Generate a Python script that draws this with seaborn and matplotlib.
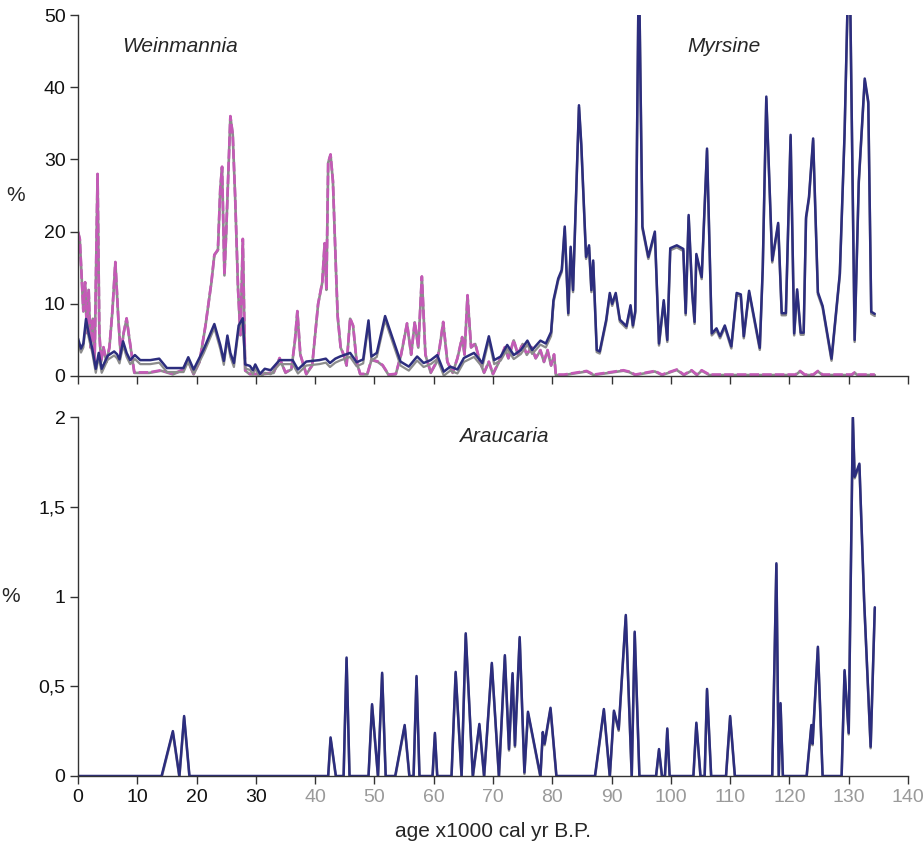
import numpy as np
import pandas as pd
import matplotlib
matplotlib.use("Agg")
import matplotlib.pyplot as plt
import matplotlib.transforms as mtransforms
import seaborn as sns

# ---------------- data ----------------
wein_age = [0, 0.3, 0.6, 0.9, 1.2, 1.5, 1.8, 2.1, 2.5, 2.8, 3.3, 3.6, 3.9, 4.3, 4.8, 5.3, 5.8, 6.3, 6.8, 7.2,
            7.7, 8.2, 8.7, 9.5, 10.5, 12, 14, 16, 17.5, 18.5, 19.5, 20.5, 21.5, 22.5, 23, 23.6, 24, 24.3, 24.7, 25,
            25.7, 26.1, 26.5, 27, 27.4, 27.8, 28.2, 29, 31, 33, 34, 35, 36, 36.6, 37, 37.5, 38.5, 39.5, 40.5, 41.2,
            41.6, 41.9, 42.2, 42.6, 43, 43.5, 43.8, 44.3, 44.8, 45.3, 45.9, 46.4, 47, 47.6, 48.8, 49.5, 50.6, 51.4,
            52.4, 53.6, 54.5, 55.5, 56.2, 56.8, 57.4, 58, 58.6, 59.5, 60.5, 61, 61.6, 62.3, 63.2, 64, 64.8, 65.2,
            65.7, 66.3, 67, 67.8, 68.5, 69.3, 70, 71, 72, 72.6, 73.5, 74.2, 75, 75.7, 76.5, 77.2, 78, 78.6, 79.2,
            79.8, 80.3, 80.6, 82, 85.8, 87, 92, 93, 94, 97.3, 98.5, 101, 102.2, 103.5, 104.4, 105.2, 106.5, 121,
            121.8, 122.6, 124, 124.8, 125.6, 130.5, 131, 131.5, 134.4]
wein_val = [20, 19, 14, 9, 13, 6, 12, 4, 8, 2, 28, 6, 2, 4, 2, 4, 9, 15.8, 8, 3,
            6, 8, 5, 0.5, 0.5, 0.5, 0.8, 0.3, 0.8, 2.2, 0.3, 2, 7, 13, 16.8, 17.5, 26, 29, 14, 20,
            36, 33.5, 25, 12, 5.7, 19, 0.8, 0.3, 0.3, 0.5, 2.5, 0.5, 1, 5, 9, 3, 0.3, 1.5, 10, 13,
            18.4, 12, 29.6, 30.7, 27, 15, 8.3, 4, 3, 1.5, 8, 7, 2, 0.3, 0.3, 2.3, 2, 1.5,
            0.2, 0.3, 3, 7.3, 3, 7.5, 4, 13.8, 3, 0.5, 2, 4, 7.5, 2, 0.5, 2.5, 5.4, 3,
            11.2, 4, 4.5, 2, 0.5, 2, 0.3, 2, 4, 2.5, 5, 3, 4.5, 3, 4, 2.5, 3.6, 2, 3.6,
            1.5, 3, 0.2, 0.2, 0.7, 0.2, 0.8, 0.6, 0.2, 0.7, 0.2, 0.9, 0.2, 0.8, 0.2, 0.8, 0.2, 0.2,
            0.7, 0.2, 0.2, 0.7, 0.2, 0.2, 0.5, 0.2, 0.2]

myr_age = [0, 0.5, 0.9, 1.35, 1.8, 2.4, 3.0, 3.5, 4, 5, 6.1, 6.6, 7, 7.6, 8.2, 8.8, 9.6, 10.5, 12.2, 13.7,
           15, 17.8, 18.6, 19.5, 21.2, 23, 24, 24.6, 25.2, 25.7, 26.3, 27.1, 27.8, 28.2, 29, 29.5, 29.9, 30.7,
           31.5, 32.5, 34, 36.2, 37.1, 38.5, 40.7, 41.8, 42.5, 43.4, 44.2, 45.9, 47, 48.1, 49, 49.5, 50.4, 51.8,
           53.2, 54.4, 55.8, 57.2, 58.3, 59.5, 60.6, 61.7, 62.8, 64, 65.1, 66.8, 68.2, 69.3, 70.2, 71.3, 72.4,
           73.5, 74.7, 75.8, 76.6, 78, 78.9, 79.8, 80.2, 81, 81.6, 82.1, 82.7, 83.1, 83.5, 84.5, 84.9, 85.7,
           86.2, 86.6, 86.9, 87.5, 88, 89.1, 89.7, 90.1, 90.7, 91.4, 92.5, 93.2, 93.6, 94.0, 94.6, 95.2, 96.2,
           97.3, 98, 98.8, 99.4, 99.9, 101, 102.1, 102.5, 103, 103.6, 104, 104.3, 105.2, 106.1, 106.9, 107.7,
           108.3, 109.1, 110.2, 111.1, 111.8, 112.3, 113.2, 115, 115.5, 116.1, 117.1, 118.1, 118.7, 119.4,
           120.2, 120.8, 121.3, 121.9, 122.4, 122.8, 123.3, 124, 124.8, 125.6, 127.1, 128.5, 129.3, 130.1,
           131, 131.7, 132.7, 133.3, 133.8, 134.4]
myr_val = [5.2, 3.8, 4.5, 7.9, 5.9, 3.8, 1, 3.2, 1, 2.8, 3.4, 3, 2.3, 4.8, 3.2, 2.2, 2.9, 2.2, 2.2, 2.4,
           1.1, 1.1, 2.6, 0.9, 3.7, 7.2, 4.3, 2.1, 5.6, 3.2, 1.8, 7, 8, 1.6, 1.4, 0.8, 1.6, 0.3,
           1, 0.8, 2.2, 2.2, 0.9, 2, 2.2, 2.4, 1.8, 2.4, 2.7, 3.2, 1.9, 2.3, 7.7, 2.7, 3.2, 8.3,
           4.9, 2, 1.3, 2.7, 1.8, 2.2, 2.9, 0.6, 1.3, 0.9, 2.5, 3.2, 1.8, 5.5, 2.2, 2.7, 4.3,
           2.9, 3.6, 4.9, 3.6, 4.9, 4.5, 6.1, 10.5, 13.5, 14.7, 20.7, 8.7, 17.9, 11.9, 37.5, 32, 16.5,
           18.1, 11.9, 16, 3.6, 3.4, 7.8, 11.5, 10, 11.5, 7.8, 6.9, 9.8, 7, 9, 58, 20.7, 16.5,
           20, 4.5, 10.5, 5, 17.7, 18.1, 17.6, 8.7, 22.3, 11.6, 7.5, 16.9, 13.7, 31.5, 5.9, 6.6,
           5.5, 7, 4.1, 11.5, 11.3, 5.5, 11.8, 3.9, 15, 38.7, 16, 21.2, 8.7, 8.7,
           33.4, 5.9, 12, 6, 6, 22, 24.8, 32.9, 11.6, 9.7, 2.4, 14.2, 33.6, 62,
           5, 27, 41.2, 38, 8.9, 8.6]

arau_age = [0, 14.1, 16.0, 17.1, 17.9, 18.8, 42.2, 42.6, 43.5, 44.8, 45.3, 45.8, 49, 49.6, 50.6, 51.3, 51.9,
            53.5, 55.1, 55.9, 56.6, 57.1, 57.6, 59.8, 60.2, 60.6, 63.0, 63.7, 64.7, 65.4, 66.6, 67.7, 68.5,
            69.8, 71, 72, 72.7, 73.3, 73.7, 74.5, 75.3, 75.9, 78, 78.4, 78.7, 79.7, 80.7, 87.2, 88.7, 89.7,
            90.4, 91.2, 92.4, 93.4, 93.9, 94.7, 97.5, 98.0, 98.5, 99.0, 99.4, 99.8, 103.8, 104.3, 105, 105.7,
            106.1, 106.8, 109.3, 110, 110.8, 117.1, 117.8, 118.2, 118.5, 118.9, 122.9, 123.7, 123.9, 124.8,
            125.6, 128.8, 129.3, 130, 130.7, 131, 131.8, 132.6, 133.7, 134.4]
arau_val = [0, 0, 0.25, 0, 0.334, 0, 0, 0.215, 0, 0, 0.66, 0, 0, 0.40, 0, 0.575, 0,
            0, 0.284, 0, 0, 0.557, 0, 0, 0.24, 0, 0, 0.58, 0, 0.795, 0, 0.29, 0,
            0.63, 0, 0.673, 0.15, 0.573, 0.17, 0.774, 0.02, 0.358, 0, 0.245, 0.18, 0.38, 0, 0, 0.373, 0,
            0.364, 0.26, 0.897, 0, 0.804, 0, 0, 0.15, 0, 0, 0.265, 0, 0, 0.297, 0, 0,
            0.485, 0, 0, 0.334, 0, 0, 1.185, 0, 0.406, 0, 0, 0.284, 0.18, 0.72,
            0, 0, 0.59, 0.24, 2.0, 1.667, 1.74, 0.98, 0.163, 0.94]

x_ticks = list(range(0, 141, 10))
top_yticks = [0, 10, 20, 30, 40, 50]
bot_yticks = [0, 0.5, 1, 1.5, 2]
bot_yticklabels = ["0", "0,5", "1", "1,5", "2"]

# ---------------- styling ----------------
sns.set_theme(style="white")
plt.rcParams["font.family"] = ["Liberation Sans", "DejaVu Sans"]

NAVY = "#2c2d7e"
MAGENTA = "#c45ab6"
GRAY = "#8c8c8c"

fig = plt.figure(figsize=(9.24, 8.43), dpi=100)
ax1 = fig.add_axes([78 / 924, 1 - 376 / 843, 830 / 924, 361 / 843])
ax2 = fig.add_axes([78 / 924, 1 - 776 / 843, 830 / 924, 359 / 843])

wein = pd.DataFrame({"age": wein_age, "pct": wein_val})
myr = pd.DataFrame({"age": myr_age, "pct": myr_val})
arau = pd.DataFrame({"age": arau_age, "pct": arau_val})


def shifted(ax, dy):
    return mtransforms.offset_copy(ax.transData, fig=fig, x=0, y=-dy, units="dots")


def shadow(ax, df, dy, lw):
    sns.lineplot(data=df, x="age", y="pct", ax=ax, color=GRAY, lw=lw, errorbar=None)
    ax.lines[-1].set_transform(shifted(ax, dy))


# top panel: Weinmannia (dashed magenta on gray) and Myrsine (navy with gray shadow)
shadow(ax1, wein, 0.5, 1.9)
sns.lineplot(data=wein, x="age", y="pct", ax=ax1, color=MAGENTA, lw=1.9, errorbar=None)
ax1.lines[-1].set_dashes((3.6, 1.2))

shadow(ax1, myr[myr["age"] <= 80.2], 4, 1.6)
shadow(ax1, myr[myr["age"] >= 79.8], 2, 1.8)
sns.lineplot(data=myr, x="age", y="pct", ax=ax1, color=NAVY, lw=1.8, errorbar=None)

# bottom panel: Araucaria
shadow(ax2, arau, 1.5, 1.8)
sns.lineplot(data=arau, x="age", y="pct", ax=ax2, color=NAVY, lw=1.8, errorbar=None)

for ax in (ax1, ax2):
    ax.set_xlim(0, 140)
    ax.set_xticks(x_ticks)
    sns.despine(ax=ax)
    for s in ("left", "bottom"):
        ax.spines[s].set_color("#333333")
        ax.spines[s].set_linewidth(1.0)
    ax.tick_params(axis="both", direction="out", length=6, width=1.0, color="#333333",
                   labelsize=14, bottom=True, left=True, pad=3, labelcolor="#111111")
    ax.set_xlabel("")
    ax.set_ylabel("%", rotation=0, fontsize=15, labelpad=20, va="center")
    ax.grid(False)

ax1.set_ylim(0, 50)
ax1.set_yticks(top_yticks)
ax1.set_xticklabels([])

ax2.set_ylim(0, 2)
ax2.set_yticks(bot_yticks)
ax2.set_yticklabels(bot_yticklabels)
ax2.set_xticklabels([str(t) for t in x_ticks])
for lab, t in zip(ax2.get_xticklabels(), x_ticks):
    lab.set_color("#111111" if t < 40 else "#9a9a9a")
ax2.set_xlabel("age x1000 cal yr B.P.", fontsize=15, labelpad=12)

ax1.text(17.2, 45.6, "Weinmannia", style="italic", fontsize=15, ha="center", va="center")
ax1.text(109, 45.6, "Myrsine", style="italic", fontsize=15, ha="center", va="center")
ax2.text(71.8, 1.89, "Araucaria", style="italic", fontsize=15, ha="center", va="center")

fig.savefig("out.png", dpi=100)
